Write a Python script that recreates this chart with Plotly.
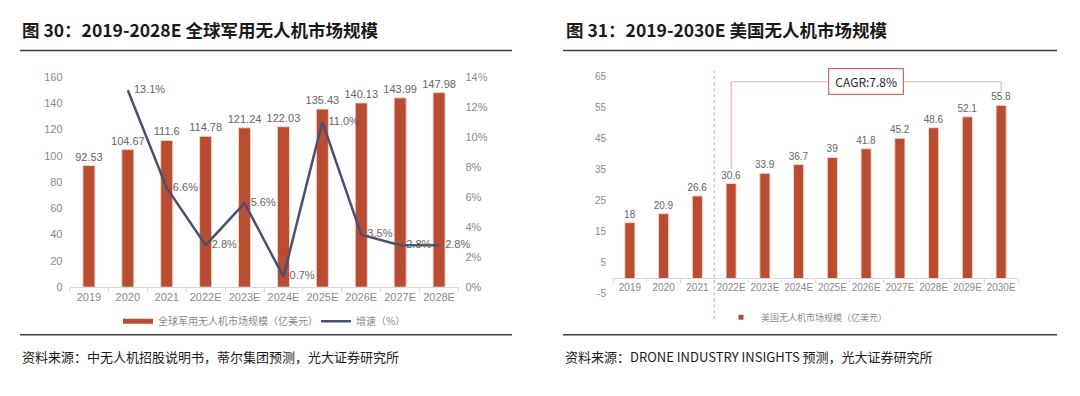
import plotly.graph_objects as go

# ---------------- data ----------------
years_a = ["2019", "2020", "2021", "2022E", "2023E", "2024E", "2025E", "2026E", "2027E", "2028E"]
market_a = [92.53, 104.67, 111.6, 114.78, 121.24, 122.03, 135.43, 140.13, 143.99, 147.98]
growth_years = ["2020", "2021", "2022E", "2023E", "2024E", "2025E", "2026E", "2027E", "2028E"]
growth_a = [0.131, 0.066, 0.028, 0.056, 0.007, 0.110, 0.035, 0.028, 0.028]
growth_labels = ["13.1%", "6.6%", "2.8%", "5.6%", "0.7%", "11.0%", "3.5%", "2.8%", "2.8%"]

years_b = ["2019", "2020", "2021", "2022E", "2023E", "2024E", "2025E", "2026E",
           "2027E", "2028E", "2029E", "2030E"]
market_b = [18, 20.9, 26.6, 30.6, 33.9, 36.7, 39, 41.8, 45.2, 48.6, 52.1, 55.8]
ticks_b = [-5, 5, 15, 25, 35, 45, 55, 65]
ticklabels_b = ["-5", "5", "15", "25", "35", "45", "55", "65"]

title_a = "图 30：2019-2028E 全球军用无人机市场规模"
title_b = "图 31：2019-2030E 美国无人机市场规模"
source_a = "资料来源：中无人机招股说明书，蒂尔集团预测，光大证券研究所"
source_b = "资料来源：DRONE INDUSTRY INSIGHTS 预测，光大证券研究所"
name_bar_a = "全球军用无人机市场规模（亿美元）"
name_line_a = "增速（%）"
name_bar_b = "美国无人机市场规模（亿美元）"
cagr_text = "CAGR:7.8%"

# ---------------- style ----------------
W, H = 1080, 396
BAR = "#B84D31"
BAR_EDGE = "#F3D5CC"
LINE = "#4D4F70"
TICK = "#8A8A8A"
LABEL = "#666666"
FONT = "Liberation Sans, Arial, Noto Sans CJK SC"
CJK = "Noto Sans CJK SC"


def px(x):
    return x / W


def py(y):
    return 1 - y / H


fig = go.Figure()

# left chart bars
fig.add_trace(go.Bar(
    x=years_a, y=market_a, xaxis="x", yaxis="y",
    marker=dict(color=BAR, line=dict(color=BAR_EDGE, width=1)),
    width=0.31, texttemplate="%{y}", textposition="outside", constraintext="none",
    textfont=dict(size=11, color=LABEL, family=FONT), cliponaxis=False,
    showlegend=False, name=name_bar_a,
))
# left chart growth line
fig.add_trace(go.Scatter(
    x=growth_years, y=growth_a, xaxis="x", yaxis="y2",
    mode="lines+text", line=dict(color=LINE, width=2.5),
    text=["  " + t for t in growth_labels], textposition="middle right",
    textfont=dict(size=11, color=LABEL, family=FONT), cliponaxis=False,
    showlegend=False, name=name_line_a,
))
# legend proxies (left)
fig.add_trace(go.Scatter(x=[None], y=[None], mode="lines", xaxis="x", yaxis="y",
                         line=dict(color=BAR, width=5), name=name_bar_a, legend="legend"))
fig.add_trace(go.Scatter(x=[None], y=[None], mode="lines", xaxis="x", yaxis="y",
                         line=dict(color=LINE, width=2.5), name=name_line_a, legend="legend"))

# right chart bars
fig.add_trace(go.Bar(
    x=years_b, y=market_b, xaxis="x3", yaxis="y3",
    marker=dict(color=BAR, line=dict(color=BAR_EDGE, width=1)),
    width=0.3, texttemplate="%{y}", textposition="outside", constraintext="none",
    textfont=dict(size=10, color=LABEL, family=FONT), cliponaxis=False,
    showlegend=False, name=name_bar_b,
))
fig.add_trace(go.Scatter(x=[None], y=[None], mode="markers", xaxis="x3", yaxis="y3",
                         marker=dict(color=BAR, size=5, symbol="square"),
                         name=name_bar_b, legend="legend2"))

axis_common = dict(showgrid=False, zeroline=False,
                   tickfont=dict(size=11, color=TICK, family=FONT))

fig.update_layout(
    width=W, height=H,
    margin=dict(l=0, r=0, t=0, b=0),
    paper_bgcolor="white", plot_bgcolor="white",
    font=dict(family=FONT, color=TICK),
    xaxis=dict(domain=[px(69.5), px(458.5)], anchor="y", showline=True, linecolor="#D9D9D9",
               ticks="outside", tickson="boundaries", ticklen=4, tickcolor="#D9D9D9",
               tickangle=0, **axis_common),
    yaxis=dict(domain=[py(290), py(73)], range=[0, 160], dtick=20, anchor="x",
               ticklabelstandoff=6, **axis_common),
    yaxis2=dict(domain=[py(290), py(73)], range=[0, 0.14], dtick=0.02, tickformat=".0%",
                overlaying="y", side="right", anchor="x", ticklabelstandoff=6, **axis_common),
    xaxis3=dict(domain=[px(613), px(1018)], anchor="free", position=py(281), showline=True,
                linecolor="#D9D9D9", ticks="outside", tickson="boundaries", ticklen=4,
                tickcolor="#D9D9D9", showgrid=False, zeroline=False, tickangle=0,
                tickfont=dict(size=10, color=TICK, family=FONT)),
    yaxis3=dict(domain=[py(297), py(73)], range=[-5, 65], tickmode="array",
                tickvals=ticks_b, ticktext=ticklabels_b, anchor="x3",
                ticklabelstandoff=6, showgrid=False, zeroline=False,
                tickfont=dict(size=10, color=TICK, family=FONT)),
    legend=dict(orientation="h", x=px(118), y=py(325), xanchor="left", yanchor="middle",
                font=dict(size=10, color=TICK, family=CJK), bgcolor="rgba(0,0,0,0)",
                itemwidth=30, entrywidth=153, entrywidthmode="pixels"),
    legend2=dict(orientation="h", x=px(721), y=py(321), xanchor="left", yanchor="middle",
                 font=dict(size=9, color=TICK, family=CJK), bgcolor="rgba(0,0,0,0)",
                 itemwidth=30),
)

# titles and sources
for x0, txt in [(20, title_a), (564, title_b)]:
    fig.add_annotation(text=txt, xref="paper", yref="paper", x=px(x0), y=py(24),
                       xanchor="left", yanchor="middle", showarrow=False,
                       font=dict(size=17.5, color="#1A1A1A", family=CJK, weight=700))
for x0, txt in [(20, source_a), (563, source_b)]:
    fig.add_annotation(text=txt, xref="paper", yref="paper", x=px(x0), y=py(361),
                       xanchor="left", yanchor="middle", showarrow=False,
                       font=dict(size=13, color="#1A1A1A", family=CJK))

# separator rules
for x0, x1 in [(20, 512), (563, 1057)]:
    for yy in (46, 339):
        fig.add_shape(type="line", xref="paper", yref="paper", x0=px(x0), x1=px(x1),
                      y0=py(yy), y1=py(yy), line=dict(color="#404040", width=1.5))

# dashed divider between history and forecast (right chart)
fig.add_shape(type="line", xref="x3", yref="paper", x0=2.5, x1=2.5, y0=py(323), y1=py(67),
              line=dict(color="#EBA898", width=1.2, dash="dot"))

# CAGR bracket
first_f, last_f = years_b.index("2022E"), years_b.index("2030E")
bracket_y = 63.4
fig.add_shape(type="line", xref="x3", yref="y3", x0=first_f, x1=first_f, y0=35.3, y1=bracket_y,
              line=dict(color="#E8B3A6", width=1.2))
fig.add_shape(type="line", xref="x3", yref="y3", x0=first_f, x1=last_f, y0=bracket_y, y1=bracket_y,
              line=dict(color="#E8B3A6", width=1.2))
fig.add_shape(type="line", xref="x3", yref="y3", x0=last_f, x1=last_f, y0=bracket_y, y1=60.3,
              line=dict(color="#E8B3A6", width=1.2))
fig.add_annotation(text=cagr_text, xref="x3", yref="y3", x=7, y=bracket_y, showarrow=False,
                   bgcolor="white", bordercolor="#C4705C", borderwidth=1.2, borderpad=4,
                   width=66, font=dict(size=12, color="#262626", family=CJK))

fig.write_html(
    "out.html",
    config={"displayModeBar": False},
    post_script="document.body.style.margin='0px';document.body.style.overflow='hidden';",
)
